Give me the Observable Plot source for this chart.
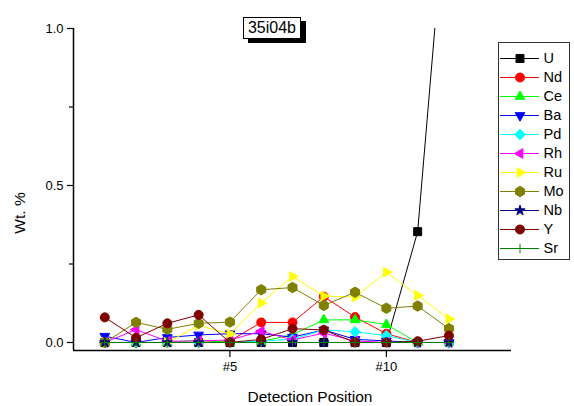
<!DOCTYPE html>
<html><head><meta charset="utf-8">
<script src="https://cdn.jsdelivr.net/npm/d3@7"></script>
<script src="https://cdn.jsdelivr.net/npm/@observablehq/plot@0.6"></script>
<style>
html,body{margin:0;padding:0;background:#fff;}
#wrap{position:relative;width:574px;height:406px;font-family:"Liberation Sans",Arial,sans-serif;color:#000;}
#chart{position:absolute;left:0;top:0;}
#title{position:absolute;left:243px;top:17px;width:56px;height:20px;border:1px solid #000;background:#fff;box-shadow:5px 4px 0 #000;font-size:16px;line-height:20px;text-align:center;}
#legend{position:absolute;left:498px;top:42px;width:70px;height:216px;border:1px solid #333;background:#fff;}
#legend svg{display:block;}
.axt{position:absolute;font-size:15.5px;line-height:18px;height:18px;text-align:center;white-space:nowrap;}
#xl{left:210px;top:388px;width:200px;}
#yl{left:-10px;top:204px;width:60px;transform:rotate(-90deg);}
</style></head><body>
<div id="wrap">
  <div id="chart"></div>
  <div id="title">35i04b</div>
  <div id="legend"></div>
  <div class="axt" id="xl">Detection Position</div>
  <div class="axt" id="yl">Wt. %</div>
</div>
<script>
const positions = [1, 2, 3, 4, 5, 6, 7, 8, 9, 10, 11, 12];
const elements = ["U", "Nd", "Ce", "Ba", "Pd", "Rh", "Ru", "Mo", "Nb", "Y", "Sr"];
const colors = ["#000000", "#ff0000", "#00ff00", "#0000ff", "#00ffff", "#ff00ff", "#ffff00", "#808000", "#000080", "#800000", "#008000"];

const U  = [0, 0, 0, 0, 0, 0, 0, 0, 0, 0, 0.353, 1.53];
const Nd = [0, 0, 0, 0, 0.005, 0.064, 0.064, 0.146, 0.081, 0.028, 0, 0];
const Ce = [0, 0, 0, 0.008, 0, 0.003, 0.025, 0.072, 0.072, 0.057, 0, 0];
const Ba = [0.02, 0, 0.016, 0.024, 0.028, 0.028, 0.017, 0.04, 0.01, 0.005, 0, 0];
const Pd = [0, 0, 0, 0, 0, 0.005, 0.01, 0.04, 0.034, 0.022, 0, 0];
const Rh = [0, 0.041, 0.004, 0.005, 0.008, 0.036, 0.008, 0.03, 0.005, 0, 0, 0];
const Ru = [0, 0, 0, 0.055, 0.027, 0.126, 0.21, 0.148, 0.145, 0.224, 0.15, 0.075];
const Mo = [0, 0.064, 0.042, 0.061, 0.065, 0.168, 0.175, 0.118, 0.16, 0.109, 0.116, 0.044];
const Nb = [0, 0, 0, 0, 0, 0, 0, 0, 0, 0, 0, 0];
const Y  = [0.08, 0.015, 0.061, 0.088, 0, 0.01, 0.044, 0.04, 0, 0, 0.004, 0.022];
const Sr = [0, 0, 0, 0, 0, 0, 0, 0, 0, 0, 0, 0];

const xTicks = [5, 10];
const yTicks = [0, 0.5, 1.0];
const yMinorTicks = [0.25, 0.75];
const xDomain = [0, 14];
const yDomain = [-0.0255, 1.0];

const seriesValues = [U, Nd, Ce, Ba, Pd, Rh, Ru, Mo, Nb, Y, Sr];

function tri(angle) {
  return {
    draw(ctx, size) {
      const R = Math.sqrt(size / Math.PI) * 1.25;
      for (let k = 0; k < 3; k++) {
        const a = angle + k * 2 * Math.PI / 3;
        const px = R * Math.cos(a), py = R * Math.sin(a);
        if (k === 0) ctx.moveTo(px, py); else ctx.lineTo(px, py);
      }
      ctx.closePath();
    }
  };
}
const triUp = tri(-Math.PI / 2), triDown = tri(Math.PI / 2), triLeft = tri(Math.PI), triRight = tri(0);
const symbols = [d3.symbolSquare, d3.symbolCircle, triUp, triDown, d3.symbolDiamond2, triLeft, triRight, "hexagon", d3.symbolStar, d3.symbolCircle, d3.symbolPlus];
const radii = [4.5, 4.5, 4.5, 4.5, 4.8, 4.5, 4.5, 4.5, 3.2, 4.5, 3.2];

const rows = elements.map((name, i) => positions.map((p, j) => ({name, pos: p, value: seriesValues[i][j]})));

const seriesMarks = elements.flatMap((name, i) => [
  Plot.line(rows[i], {x: "pos", y: "value", stroke: colors[i], strokeWidth: 1, clip: true}),
  Plot.dot(rows[i], {x: "pos", y: "value", symbol: symbols[i], r: radii[i], fill: colors[i], stroke: colors[i], strokeWidth: 1, clip: true})
]);

const chart = Plot.plot({
  width: 574, height: 406,
  marginLeft: 73, marginRight: 63, marginTop: 28, marginBottom: 56,
  x: {domain: xDomain, axis: null},
  y: {domain: yDomain, axis: null},
  style: {fontFamily: '"Liberation Sans", Arial, sans-serif', fontSize: "13px", color: "#000", background: "transparent"},
  marks: [
    ...seriesMarks,
    Plot.ruleX([xDomain[0]], {stroke: "#000", strokeWidth: 1.5}),
    Plot.ruleY([yDomain[0]], {stroke: "#000", strokeWidth: 1.5}),
    Plot.axisY(yTicks, {tickFormat: d3.format(".1f"), tickSize: 6, tickPadding: 4, strokeWidth: 1.2, fontSize: 13, label: null}),
    Plot.axisY(yMinorTicks, {tickFormat: () => "", tickSize: 4, strokeWidth: 1.2, label: null}),
    Plot.axisX(xTicks, {tickFormat: d => "#" + d, tickSize: 7, tickPadding: 4, strokeWidth: 1.2, fontSize: 13, label: null, anchor: "bottom"})
  ]
});
document.getElementById("chart").appendChild(chart);

const legend = Plot.plot({
  width: 70, height: 216,
  marginLeft: 0, marginRight: 0, marginTop: 0, marginBottom: 0,
  x: {domain: [0, 1], range: [1, 40], axis: null},
  y: {type: "point", domain: elements, range: [12, 207], padding: 0, axis: null},
  style: {fontFamily: '"Liberation Sans", Arial, sans-serif', fontSize: "13px", color: "#000", background: "transparent"},
  marks: elements.flatMap((name, i) => [
    Plot.ruleY([name], {y: d => d, x1: () => 0, x2: () => 1, stroke: colors[i], strokeWidth: 1}),
    Plot.dot([name], {x: () => 0.5, y: d => d, symbol: symbols[i], r: radii[i], fill: colors[i], stroke: colors[i], strokeWidth: 1}),
    Plot.text([name], {x: () => 1, y: d => d, text: d => d, textAnchor: "start", dx: 4, fontSize: 14.5, fill: "#000"})
  ])
});
document.getElementById("legend").appendChild(legend);
</script>
</body></html>
